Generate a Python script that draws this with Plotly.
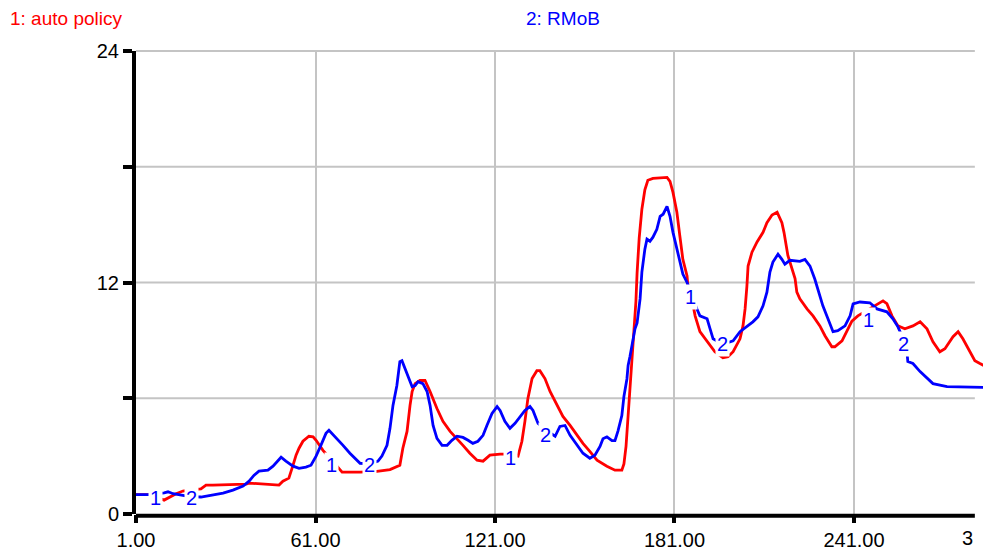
import plotly.graph_objects as go

# ---------------- data ----------------
t_red = [1.0, 5.7, 10.4, 12.4, 14.4, 16.7, 19.0, 22.7, 24.4, 26.7,
         37.8, 38.8, 48.8, 50.1, 52.1, 53.5, 54.5, 55.5, 56.8, 58.8,
         60.2, 61.2, 63.5, 65.8, 67.9, 69.9, 75.9, 80.9, 85.9, 88.6,
         89.2, 90.2, 91.6, 92.6, 93.3, 94.3, 95.9, 97.6, 99.3, 101.6,
         103.6, 106.0, 108.3, 110.3, 112.6, 115.0, 117.0, 119.3, 122.7, 125.3,
         128.7, 130.0, 131.0, 132.0, 133.4, 135.0, 136.0, 137.7, 139.4, 141.7,
         143.7, 146.1, 148.4, 150.4, 152.7, 155.1, 158.4, 161.1, 163.4, 164.1,
         164.8, 165.5, 166.1, 166.8, 167.5, 168.1, 168.5, 169.2, 170.1, 171.1,
         172.1, 173.8, 178.5, 179.5, 180.5, 181.8, 182.8, 183.8, 185.2, 185.5,
         186.8, 187.9, 189.5, 191.9, 194.5, 197.2, 198.9, 200.6, 202.9, 203.9,
         204.6, 205.2, 205.6, 206.9, 208.6, 210.6, 211.9, 213.6, 215.3, 216.9,
         217.6, 218.9, 220.3, 221.3, 221.9, 222.9, 225.3, 227.3, 229.6, 231.3,
         233.6, 234.6, 237.0, 238.7, 240.3, 242.3, 245.7, 248.7, 250.7, 252.0,
         253.7, 255.7, 258.0, 260.7, 263.1, 265.4, 267.4, 269.7, 271.4, 274.1,
         275.8, 277.4, 279.8, 281.4, 283.1, 286.8]
y_red = [1.0, 1.0, 0.72, 0.9, 1.05, 1.19, 1.25, 1.3, 1.5, 1.5,
         1.55, 1.6, 1.5, 1.7, 1.86, 2.53, 3.05, 3.41, 3.77, 4.03,
         4.0, 3.82, 3.3, 2.9, 2.5, 2.17, 2.17, 2.2, 2.3, 2.48,
         2.53, 3.41, 4.28, 5.63, 6.35, 6.76, 6.92, 6.92, 6.35, 5.47,
         4.8, 4.28, 3.92, 3.56, 3.15, 2.79, 2.74, 3.05, 3.1, 3.1,
         3.0, 3.77, 4.8, 5.99, 7.02, 7.43, 7.43, 7.02, 6.35, 5.63,
         5.06, 4.59, 4.08, 3.66, 3.25, 2.79, 2.48, 2.27, 2.27, 2.6,
         3.5, 5.0, 6.3, 7.8, 9.5, 11.0, 12.5, 14.3, 15.8, 16.8,
         17.3, 17.4, 17.45, 17.24, 16.67, 15.64, 14.4, 13.2, 12.34, 11.8,
         11.15, 10.27, 9.45, 8.93, 8.41, 8.1, 8.15, 8.41, 9.08, 9.75,
         10.63, 11.8, 12.85, 13.57, 14.1, 14.6, 15.1, 15.5, 15.64, 15.1,
         14.6, 13.4, 12.7, 12.2, 11.5, 11.15, 10.63, 10.27, 9.75, 9.24,
         8.67, 8.67, 8.98, 9.5, 10.0, 10.27, 10.6, 10.9, 11.05, 10.9,
         10.27, 9.75, 9.6, 9.75, 9.96, 9.6, 8.93, 8.41, 8.57, 9.19,
         9.45, 9.08, 8.41, 7.95, 7.8, 7.5]

t_blue = [1.0, 5.7, 10.4, 11.7, 13.4, 15.4, 19.0, 22.7, 24.4, 26.7,
          30.1, 33.4, 36.8, 38.8, 40.4, 42.1, 45.1, 46.8, 48.5, 49.5,
          51.1, 53.5, 55.5, 57.8, 59.5, 61.2, 62.8, 64.5, 65.5, 68.2,
          70.2, 72.5, 74.9, 75.9, 79.3, 81.9, 83.2, 84.9, 85.9, 86.9,
          88.2, 89.2, 89.9, 90.9, 91.9, 93.3, 94.3, 95.3, 96.9, 98.3,
          99.3, 100.3, 101.6, 103.3, 105.0, 106.6, 108.3, 110.3, 112.0, 113.6,
          115.3, 117.0, 118.3, 120.0, 121.7, 122.7, 124.3, 126.0, 127.7, 129.4,
          131.0, 132.7, 133.7, 135.0, 135.4, 138.4, 141.1, 142.7, 144.4, 146.1,
          148.4, 150.4, 152.7, 154.4, 156.1, 157.1, 158.4, 160.1, 161.1, 162.1,
          163.4, 164.1, 165.1, 165.5, 166.1, 167.1, 167.8, 168.5, 169.5, 170.1,
          171.1, 171.8, 172.8, 173.8, 175.1, 176.2, 177.2, 178.5, 179.5, 180.5,
          181.8, 182.8, 183.8, 185.2, 186.8, 188.5, 189.5, 191.9, 192.9, 193.9,
          197.2, 200.6, 202.9, 205.2, 207.2, 208.9, 210.6, 211.9, 212.9, 213.9,
          215.6, 216.9, 217.9, 219.6, 222.9, 224.6, 226.3, 227.9, 229.0, 230.6,
          232.3, 234.0, 235.6, 238.0, 239.7, 240.7, 243.0, 246.3, 248.7, 252.0,
          254.0, 255.7, 257.4, 258.7, 259.0, 260.7, 263.1, 265.4, 267.4, 272.1,
          286.8]
y_blue = [1.0, 1.0, 1.1, 1.15, 1.05, 1.0, 0.9, 0.88, 0.93, 0.98,
          1.08, 1.24, 1.45, 1.7, 2.0, 2.22, 2.27, 2.48, 2.79, 2.94,
          2.74, 2.48, 2.37, 2.43, 2.53, 3.0, 3.56, 4.18, 4.34, 3.92,
          3.56, 3.15, 2.79, 2.63, 2.6, 2.74, 3.0, 3.56, 4.44, 5.63,
          6.66, 7.9, 7.95, 7.54, 7.12, 6.6, 6.66, 6.86, 6.76, 6.35,
          5.63, 4.59, 3.92, 3.56, 3.56, 3.82, 4.03, 3.97, 3.82, 3.66,
          3.77, 4.08, 4.59, 5.21, 5.57, 5.37, 4.8, 4.44, 4.7, 5.06,
          5.37, 5.57, 5.37, 4.85, 4.7, 4.3, 4.03, 4.54, 4.59, 4.08,
          3.56, 3.15, 2.89, 3.05, 3.5, 3.9, 4.0, 3.8, 3.8, 4.3,
          5.1, 6.1, 7.0, 7.7, 8.15, 8.9, 9.6, 9.9, 11.15, 12.54,
          13.73, 14.25, 14.14, 14.35, 14.76, 15.43, 15.54, 15.95, 15.43, 14.6,
          13.73, 13.06, 12.44, 12.0, 11.3, 10.63, 10.27, 10.12, 9.6, 9.08,
          8.8, 8.98, 9.45, 9.7, 9.96, 10.22, 10.79, 11.5, 12.54, 13.06,
          13.47, 13.2, 12.95, 13.15, 13.1, 13.2, 12.85, 12.18, 11.66, 10.79,
          10.12, 9.45, 9.5, 9.75, 10.27, 10.89, 10.99, 10.95, 10.63, 10.48,
          10.12, 9.7, 9.1, 8.41, 7.9, 7.8, 7.38, 7.02, 6.76, 6.6,
          6.55]

series_names = ["1: auto policy", "2: RMoB"]
series_colors = ["#ff0000", "#0000ff"]

x_tickvals = [1, 61, 121, 181, 241]
x_ticktext = ["1.00", "61.00", "121.00", "181.00", "241.00"]
y_tickvals = [0, 6, 12, 18, 24]
y_ticktext = ["0", "", "12", "", "24"]

label_text = ["1", "2", "1", "2", "1", "2", "1", "2", "1", "2"]
label_t = [7.4, 19.4, 66.5, 78.9, 126.3, 138.0, 186.2, 197.2, 245.7, 257.7]
label_y = [0.83, 0.83, 2.53, 2.53, 2.9, 4.08, 11.25, 8.83, 10.06, 8.83]

X_MAX = 286.8
GRID_END = 281.4
FONT = "Liberation Sans, Arial, Helvetica, sans-serif"
FS = 20

# ---------------- figure ----------------
fig = go.Figure()
fig.add_trace(go.Scatter(x=t_red, y=y_red, mode="lines", name=series_names[0],
                         line=dict(color=series_colors[0], width=2.8),
                         showlegend=False, hoverinfo="skip"))
fig.add_trace(go.Scatter(x=t_blue, y=y_blue, mode="lines", name=series_names[1],
                         line=dict(color=series_colors[1], width=2.8),
                         showlegend=False, hoverinfo="skip"))

shapes = []
for v in y_tickvals[1:]:
    shapes.append(dict(type="line", xref="x", yref="paper", x0=1, x1=GRID_END,
                       y0=v / 24, y1=v / 24, layer="below",
                       line=dict(color="#c4c4c4", width=2)))
# bottom axis line (ends where the grid ends)
shapes.append(dict(type="line", xref="x", yref="paper", x0=1, x1=GRID_END,
                   y0=-0.004, y1=-0.004, layer="above",
                   line=dict(color="black", width=4)))

annotations = []
for txt, tx, ty in zip(label_text, label_t, label_y):
    annotations.append(dict(x=tx, y=ty, xref="x", yref="y", text=txt,
                            showarrow=False, bgcolor="white", borderpad=1,
                            font=dict(family=FONT, size=FS, color="#0000ff")))
annotations.append(dict(x=-0.1497, y=1.07, xref="paper", yref="paper",
                        text=series_names[0], showarrow=False,
                        xanchor="left", yanchor="middle",
                        font=dict(family=FONT, size=19, color=series_colors[0])))
annotations.append(dict(x=0.4994, y=1.07, xref="paper", yref="paper",
                        text=series_names[1], showarrow=False,
                        xanchor="center", yanchor="middle",
                        font=dict(family=FONT, size=19, color=series_colors[1])))
annotations.append(dict(x=279, y=-0.052, xref="x", yref="paper", text="3",
                        showarrow=False, xanchor="center", yanchor="middle",
                        font=dict(family=FONT, size=FS, color="black")))

# the page body adds an 8px offset, so the figure is 8px smaller and margins shifted
fig.update_layout(
    width=983, height=543,
    margin=dict(l=128, r=0, t=43, b=27),
    plot_bgcolor="white", paper_bgcolor="white",
    font=dict(family=FONT, size=FS, color="black"),
    shapes=shapes, annotations=annotations,
    xaxis=dict(range=[1, X_MAX], tickvals=x_tickvals, ticktext=x_ticktext,
               showgrid=True, gridcolor="#c4c4c4", gridwidth=2,
               ticks="outside", ticklen=8, tickwidth=4, tickcolor="black",
               showline=False, zeroline=False, fixedrange=True),
    yaxis=dict(range=[0, 24], tickvals=y_tickvals, ticktext=y_ticktext,
               showgrid=False, ticks="outside", ticklen=9, tickwidth=4,
               tickcolor="black", showline=True, linewidth=4, linecolor="black",
               zeroline=False, fixedrange=True),
)

fig.write_html("out.html")
